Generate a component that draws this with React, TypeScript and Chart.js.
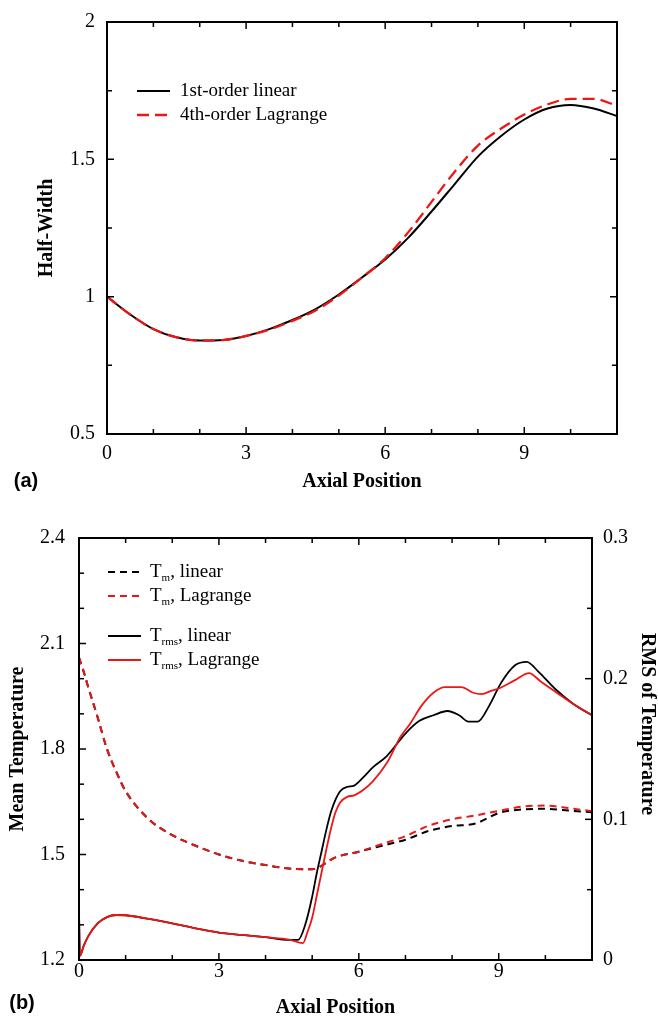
import React, { useEffect, useRef } from "react";
import { Chart, registerables } from "chart.js";

Chart.register(...registerables);

// ---------- Panel (a): Half-width vs axial position ----------
const axialA = [0, 0.5, 1, 1.5, 2, 2.5, 3, 3.5, 4, 4.5, 5, 5.5, 6, 6.5, 7, 7.5, 8, 8.5, 9, 9.5, 10, 10.5, 11];
const halfWidthLinear = [1.0, 0.935, 0.882, 0.852, 0.84, 0.842, 0.857, 0.882, 0.915, 0.955, 1.008, 1.07, 1.135, 1.215, 1.31, 1.41, 1.51, 1.585, 1.645, 1.685, 1.698, 1.685, 1.658];
const halfWidthLagrange = [1.0, 0.935, 0.882, 0.852, 0.84, 0.842, 0.857, 0.88, 0.912, 0.95, 1.004, 1.07, 1.14, 1.235, 1.345, 1.455, 1.55, 1.612, 1.663, 1.7, 1.72, 1.72, 1.695];
const labelsA = ["1st-order linear", "4th-order Lagrange"];

// ---------- Panel (b): mean temperature (left axis) ----------
const axialTm = [0, 0.1, 0.2, 0.4, 0.6, 0.8, 1, 1.5, 2, 2.5, 3, 3.5, 4, 4.5, 5, 5.5, 6, 6.5, 7, 7.5, 8, 8.5, 9, 9.5, 10, 10.5, 11];
const tmLinear = [2.06, 2.02, 1.975, 1.89, 1.8, 1.735, 1.68, 1.6, 1.555, 1.525, 1.5, 1.482, 1.47, 1.46, 1.458, 1.492, 1.508, 1.525, 1.542, 1.567, 1.581, 1.588, 1.618, 1.628, 1.63, 1.625, 1.62];
const tmLagrange = [2.06, 2.02, 1.975, 1.89, 1.8, 1.735, 1.68, 1.6, 1.555, 1.525, 1.5, 1.482, 1.47, 1.46, 1.458, 1.492, 1.508, 1.53, 1.552, 1.582, 1.6, 1.611, 1.624, 1.636, 1.639, 1.632, 1.623];

// ---------- Panel (b): RMS of temperature (right axis) ----------
const axialTrmsLinear = [0, 0.02, 0.1, 0.2, 0.4, 0.6, 0.8, 1.0, 1.5, 2, 2.5, 3, 3.5, 4, 4.5, 4.7, 4.85, 5.0, 5.1, 5.2, 5.3, 5.4, 5.5, 5.6, 5.75, 5.9, 6.1, 6.3, 6.6, 7, 7.3, 7.6, 7.9, 8.15, 8.35, 8.55, 8.8, 9.05, 9.35, 9.6, 9.85, 10.2, 10.6, 11];
const trmsLinear = [0.034, 0.003, 0.01, 0.017, 0.026, 0.0305, 0.032, 0.0318, 0.0292, 0.026, 0.0225, 0.0195, 0.0178, 0.0162, 0.0143, 0.0143, 0.025, 0.045, 0.062, 0.077, 0.092, 0.105, 0.114, 0.12, 0.123, 0.124, 0.13, 0.137, 0.145, 0.161, 0.17, 0.174, 0.177, 0.174, 0.1695, 0.1695, 0.181, 0.197, 0.2095, 0.212, 0.205, 0.193, 0.182, 0.174];
const axialTrmsLagrange = [0, 0.02, 0.1, 0.2, 0.4, 0.6, 0.8, 1.0, 1.5, 2, 2.5, 3, 3.5, 4, 4.5, 4.8, 4.9, 5.0, 5.1, 5.2, 5.3, 5.4, 5.5, 5.6, 5.75, 5.9, 6.1, 6.3, 6.6, 6.9, 7.1, 7.35, 7.6, 7.85, 8.2, 8.45, 8.63, 8.85, 9.0, 9.35, 9.65, 9.9, 10.2, 10.6, 11];
const trmsLagrange = [0.035, 0.003, 0.01, 0.017, 0.026, 0.0305, 0.032, 0.0318, 0.0292, 0.026, 0.0225, 0.0195, 0.0178, 0.0162, 0.0145, 0.012, 0.02, 0.03, 0.046, 0.062, 0.078, 0.093, 0.105, 0.112, 0.116, 0.117, 0.121, 0.127, 0.14, 0.159, 0.168, 0.181, 0.19, 0.194, 0.194, 0.19, 0.189, 0.1915, 0.193, 0.199, 0.204, 0.198, 0.191, 0.182, 0.174];
const labelsB = ["Tm, linear", "Tm, Lagrange", "Trms, linear", "Trms, Lagrange"];

const SERIF = "'Liberation Serif', 'Times New Roman', serif";
const SANS = "'Liberation Sans', Arial, sans-serif";
const RED = "rgb(236, 22, 22)";

const pts = (xs: number[], ys: number[]) => xs.map((x, i) => ({ x, y: ys[i] }));
const fmt = (v: any) => String(Number(Number(v).toFixed(3)));

// Inward ticks on all sides + frame
const frameTicks = {
  id: "frameTicks",
  afterDraw(chart: any, _args: any, opts: any) {
    const { ctx, chartArea: a } = chart;
    ctx.save();
    ctx.strokeStyle = "#000";
    ctx.lineWidth = 1.5;
    (opts.specs || []).forEach((s: any) => {
      const sc = chart.scales[s.scale];
      const n = Math.round((sc.max - sc.min) / s.step);
      for (let i = 0; i <= n; i++) {
        const v = sc.min + i * s.step;
        const r = v / s.major;
        const isMajor = Math.abs(r - Math.round(r)) < 1e-6;
        const len = isMajor ? 7 : 5;
        const p = sc.getPixelForValue(v);
        ctx.beginPath();
        s.sides.forEach((side: string) => {
          if (side === "bottom") { ctx.moveTo(p, a.bottom); ctx.lineTo(p, a.bottom - len); }
          if (side === "top") { ctx.moveTo(p, a.top); ctx.lineTo(p, a.top + len); }
          if (side === "left") { ctx.moveTo(a.left, p); ctx.lineTo(a.left + len, p); }
          if (side === "right") { ctx.moveTo(a.right, p); ctx.lineTo(a.right - len, p); }
        });
        ctx.stroke();
      }
    });
    ctx.lineWidth = 2;
    ctx.strokeRect(a.left, a.top, a.right - a.left, a.bottom - a.top);
    ctx.restore();
  },
};

// Legend with line samples, optional subscript
const lineLegend = {
  id: "lineLegend",
  afterDraw(chart: any, _args: any, opts: any) {
    const ctx = chart.ctx;
    ctx.save();
    (opts.items || []).forEach((item: any) => {
      const ds = chart.data.datasets[item.dataset];
      ctx.strokeStyle = ds.borderColor;
      ctx.lineWidth = ds.borderWidth;
      ctx.setLineDash(ds.borderDash || []);
      ctx.beginPath();
      ctx.moveTo(opts.x0, item.y);
      ctx.lineTo(opts.x1, item.y);
      ctx.stroke();
      ctx.setLineDash([]);
      ctx.fillStyle = "#000";
      ctx.textBaseline = "middle";
      ctx.textAlign = "left";
      const font = `${opts.size}px ${SERIF}`;
      let x = opts.textX;
      if (item.sub) {
        const head = ds.label.slice(0, 1);
        const rest = ds.label.slice(1 + item.sub.length);
        ctx.font = font;
        ctx.fillText(head, x, item.y);
        x += ctx.measureText(head).width;
        ctx.font = `${Math.round(opts.size * 0.6)}px ${SERIF}`;
        ctx.fillText(item.sub, x, item.y + 6);
        x += ctx.measureText(item.sub).width;
        ctx.font = font;
        ctx.fillText(rest, x, item.y);
      } else {
        ctx.font = font;
        ctx.fillText(ds.label, x, item.y);
      }
    });
    ctx.restore();
  },
};

const extraText = {
  id: "extraText",
  afterDraw(chart: any, _args: any, opts: any) {
    const ctx = chart.ctx;
    (opts.items || []).forEach((t: any) => {
      ctx.save();
      ctx.translate(t.x, t.y);
      if (t.rotate) ctx.rotate(t.rotate);
      ctx.font = t.font;
      ctx.fillStyle = "#000";
      ctx.textAlign = "center";
      ctx.textBaseline = "middle";
      ctx.fillText(t.text, 0, 0);
      ctx.restore();
    });
  },
};

const tickFont = { family: SERIF, size: 20, lineHeight: 1 };
const titleFont = { family: SERIF, size: 20, weight: "bold" as const, lineHeight: 1 };
const noGrid = { display: false, drawTicks: false };

export default function App() {
  const refA = useRef<HTMLCanvasElement>(null);
  const refB = useRef<HTMLCanvasElement>(null);

  useEffect(() => {
    const chartA = new Chart(refA.current as HTMLCanvasElement, {
      type: "line",
      data: {
        datasets: [
          { label: labelsA[0], data: pts(axialA, halfWidthLinear), borderColor: "#000", borderWidth: 2, order: 2 },
          { label: labelsA[1], data: pts(axialA, halfWidthLagrange), borderColor: RED, borderWidth: 2.3, borderDash: [12, 6], order: 1 },
        ] as any,
      },
      options: {
        responsive: false,
        animation: false,
        devicePixelRatio: 1,
        layout: { padding: { top: 14, right: 41, left: 0, bottom: 0 } },
        elements: { point: { radius: 0 }, line: { cubicInterpolationMode: "monotone" } },
        scales: {
          x: {
            type: "linear", min: 0, max: 11,
            ticks: { stepSize: 3, includeBounds: false, padding: 9.5, font: tickFont, color: "#000", maxRotation: 0, callback: fmt },
            grid: noGrid, border: { display: false },
            title: { display: true, text: "Axial Position", font: titleFont, color: "#000", padding: { top: 0, bottom: 3 } },
            afterFit: (s: any) => { s.height = 61; },
          },
          y: {
            type: "linear", min: 0.5, max: 2,
            ticks: { stepSize: 0.5, padding: 12, font: tickFont, color: "#000", callback: fmt },
            grid: noGrid, border: { display: false },
            title: { display: true, text: "Half-Width", font: titleFont, color: "#000", padding: { top: 37, bottom: 0 } },
            afterFit: (s: any) => { s.width = 107; },
          },
        },
        plugins: {
          legend: { display: false },
          tooltip: { enabled: false },
          frameTicks: {
            specs: [
              { scale: "x", step: 1, major: 3, sides: ["bottom", "top"] },
              { scale: "y", step: 0.25, major: 0.5, sides: ["left", "right"] },
            ],
          },
          lineLegend: {
            x0: 137, x1: 170, textX: 180, size: 19,
            items: [{ dataset: 0, y: 91 }, { dataset: 1, y: 115 }],
          },
          extraText: {
            items: [{ text: "(a)", x: 26, y: 481, font: `bold 20px ${SANS}` }],
          },
        } as any,
      },
      plugins: [frameTicks, lineLegend, extraText],
    });

    const chartB = new Chart(refB.current as HTMLCanvasElement, {
      type: "line",
      data: {
        datasets: [
          { label: labelsB[0], data: pts(axialTm, tmLinear), yAxisID: "y", borderColor: "#000", borderWidth: 2, borderDash: [7, 5], order: 4 },
          { label: labelsB[1], data: pts(axialTm, tmLagrange), yAxisID: "y", borderColor: RED, borderWidth: 2, borderDash: [7, 5], order: 3 },
          { label: labelsB[2], data: pts(axialTrmsLinear, trmsLinear), yAxisID: "y2", borderColor: "#000", borderWidth: 1.8, order: 2 },
          { label: labelsB[3], data: pts(axialTrmsLagrange, trmsLagrange), yAxisID: "y2", borderColor: RED, borderWidth: 1.8, order: 1 },
        ] as any,
      },
      options: {
        responsive: false,
        animation: false,
        devicePixelRatio: 1,
        layout: { padding: { top: 38, right: 0, left: 0, bottom: 0 } },
        elements: { point: { radius: 0 }, line: { cubicInterpolationMode: "monotone" } },
        scales: {
          x: {
            type: "linear", min: 0, max: 11,
            ticks: { stepSize: 3, includeBounds: false, padding: 2, font: tickFont, color: "#000", maxRotation: 0, callback: fmt },
            grid: noGrid, border: { display: false },
            title: { display: true, text: "Axial Position", font: titleFont, color: "#000", padding: { top: 0, bottom: 0 } },
            afterFit: (s: any) => { s.height = 58; },
          },
          y: {
            type: "linear", position: "left", min: 1.2, max: 2.4,
            ticks: { stepSize: 0.3, padding: 14, font: tickFont, color: "#000", callback: fmt },
            grid: noGrid, border: { display: false },
            title: { display: true, text: "Mean Temperature", font: titleFont, color: "#000", padding: { top: 8, bottom: 0 } },
            afterFit: (s: any) => { s.width = 79; },
          },
          y2: {
            type: "linear", position: "right", min: 0, max: 0.3,
            ticks: { stepSize: 0.1, padding: 11, font: tickFont, color: "#000", callback: fmt },
            grid: noGrid, border: { display: false },
            title: { display: false, text: "RMS of Temperature" },
            afterFit: (s: any) => { s.width = 66; },
          },
        },
        plugins: {
          legend: { display: false },
          tooltip: { enabled: false },
          frameTicks: {
            specs: [
              { scale: "x", step: 1, major: 3, sides: ["bottom", "top"] },
              { scale: "y", step: 0.1, major: 0.3, sides: ["left"] },
              { scale: "y2", step: 0.05, major: 0.1, sides: ["right"] },
            ],
          },
          lineLegend: {
            x0: 108, x1: 141, textX: 150, size: 19,
            items: [
              { dataset: 0, y: 72, sub: "m" },
              { dataset: 1, y: 96, sub: "m" },
              { dataset: 2, y: 136, sub: "rms" },
              { dataset: 3, y: 160, sub: "rms" },
            ],
          },
          extraText: {
            items: [
              { text: "(b)", x: 22, y: 503, font: `bold 20px ${SANS}` },
              { text: "RMS of Temperature", x: 647, y: 224, rotate: Math.PI / 2, font: `bold 20px ${SERIF}` },
            ],
          },
        } as any,
      },
      plugins: [frameTicks, lineLegend, extraText],
    });

    return () => {
      chartA.destroy();
      chartB.destroy();
    };
  }, []);

  return (
    <div style={{ position: "absolute", left: 0, top: 0, width: 658, height: 1018, background: "#fff" }}>
      <canvas ref={refA} width={658} height={495} style={{ position: "absolute", left: 0, top: 0, width: 658, height: 495 }} />
      <canvas ref={refB} width={658} height={518} style={{ position: "absolute", left: 0, top: 500, width: 658, height: 518 }} />
    </div>
  );
}
